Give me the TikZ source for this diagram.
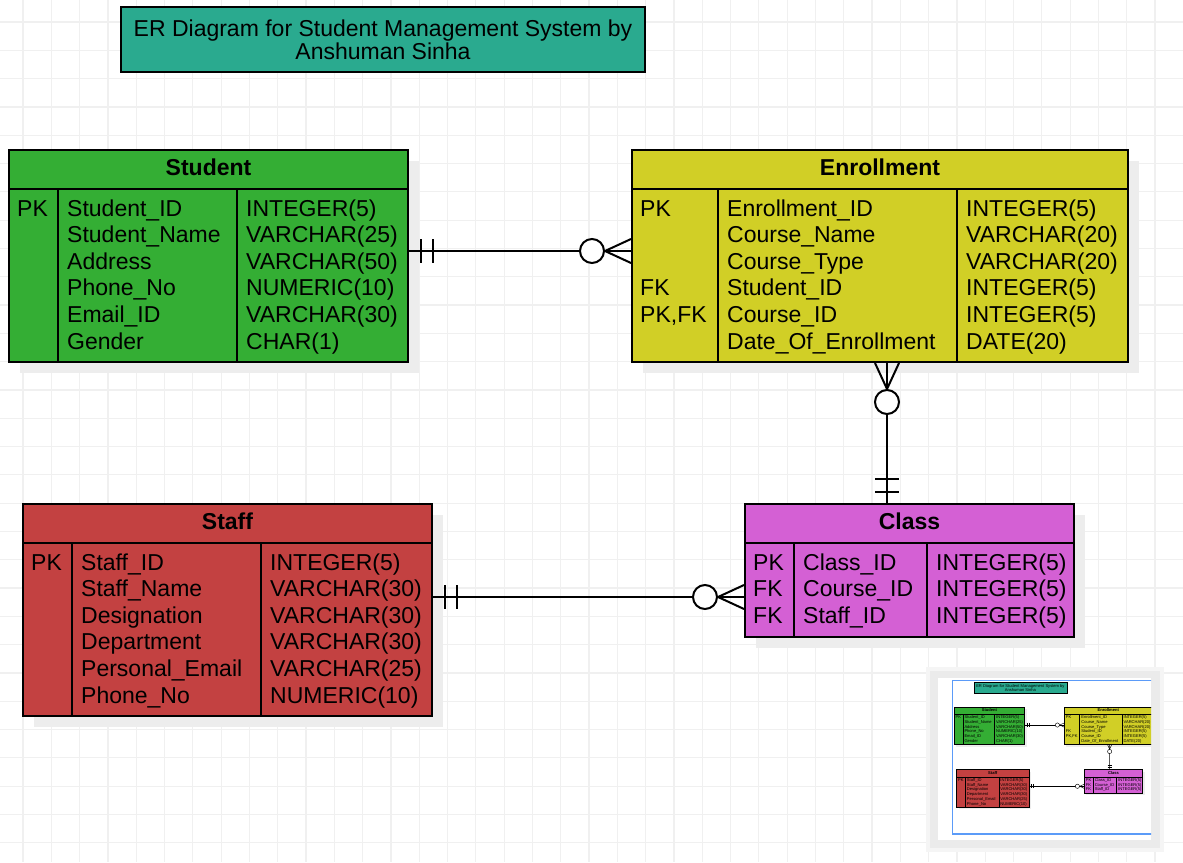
\documentclass[tikz,border=0pt]{standalone}
\usepackage{fontspec}
\setmainfont{Liberation Sans}
\usepackage{tikz}
\usetikzlibrary{calc}

\definecolor{titleteal}{HTML}{2AAA8F}
\definecolor{studentgreen}{HTML}{34AE34}
\definecolor{enrollyellow}{HTML}{D1CF26}
\definecolor{staffred}{HTML}{C34141}
\definecolor{classpink}{HTML}{D460D4}
\definecolor{viewblue}{HTML}{5B9BF8}

\newcommand{\lw}{2pt}

\tikzset{
	onebar/.pic={\draw[link] (11.5,-12) -- (11.5,12) (24,-12) -- (24,12);},
	zeromany/.pic={\draw[link] (0,-12) -- (26,0) -- (0,12);
		\draw[link, fill=white] (39,0) circle (12);}
}

% #1 name, #2 top left, #3 width, #4 height, #5/#6 column lines,
% #7 colour, #8 title, #9 rows
\newcommand{\ertable}[9]{%
	\fill[shade box] ([shift={(12,12)}]#2) rectangle ++(#3,#4);
	\node[tablebox, fill=#7, minimum width=#3, minimum height=#4] (#1) at (#2) {};
	\draw[border] ([yshift=-40]#1.north west) -- ([yshift=-40]#1.north east);
	\draw[border] ([shift={(#5,40)}]#1.north west) -- ([xshift=#5]#1.south west);
	\draw[border] ([shift={(#6,40)}]#1.north west) -- ([xshift=#6]#1.south west);
	\node[headtext] (#1-head) at ([yshift=-26]#1.north) {#8};
	\foreach \fkey/\fname/\ftype [count=\i] in {#9} {
		\node[celltext] (#1-k\i) at ([shift={(9,{67+26.6*(\i-1)})}]#1.north west) {\fkey};
		\node[celltext] (#1-n\i) at ([shift={({#5+9},{67+26.6*(\i-1)})}]#1.north west) {\fname};
		\node[celltext] (#1-t\i) at ([shift={({#6+9},{67+26.6*(\i-1)})}]#1.north west) {\ftype};
	}
}

\newcommand{\erbody}{%
	% % Nodes
	% title
	\node[titlebox] (title) at (383,39.5)
	{ER Diagram for Student Management System by\\Anshuman Sinha};
	% student
	\ertable{student}{8,149}{399}{212}{50}{229}{studentgreen}{Student}
	{PK/Student\_ID/INTEGER(5), /Student\_Name/VARCHAR(25),
	 /Address/VARCHAR(50), /Phone\_No/NUMERIC(10),
	 /Email\_ID/VARCHAR(30), /Gender/CHAR(1)}
	% enrollment
	\ertable{enrollment}{631,149}{496}{212}{87}{326}{enrollyellow}{Enrollment}
	{PK/Enrollment\_ID/INTEGER(5), /Course\_Name/VARCHAR(20),
	 /Course\_Type/VARCHAR(20), FK/Student\_ID/INTEGER(5),
	 {PK,FK}/Course\_ID/INTEGER(5), /Date\_Of\_Enrollment/DATE(20)}
	% staff
	\ertable{staff}{22,503}{409}{212}{50}{239}{staffred}{Staff}
	{PK/Staff\_ID/INTEGER(5), /Staff\_Name/VARCHAR(30),
	 /Designation/VARCHAR(30), /Department/VARCHAR(30),
	 /Personal\_Email/VARCHAR(25), /Phone\_No/NUMERIC(10)}
	% class
	\ertable{class}{744,503}{329}{133}{50}{183}{classpink}{Class}
	{PK/Class\_ID/INTEGER(5), FK/Course\_ID/INTEGER(5),
	 FK/Staff\_ID/INTEGER(5)}
	% % Connectors
	\coordinate (studentport) at ([yshift=-102]student.north east);
	\coordinate (enrollport) at ([yshift=-102]enrollment.north west);
	\coordinate (enrolldown) at ([xshift=256]enrollment.south west);
	\coordinate (classup) at (enrolldown |- class.north);
	\coordinate (staffport) at ([yshift=-94]staff.north east);
	\coordinate (classport) at ([yshift=-94]class.north west);
	\draw[link] (studentport) -- (enrollport);
	\draw[link] (enrolldown) -- (classup);
	\draw[link] (staffport) -- (classport);
	\pic at (studentport) {onebar};
	\pic[rotate=180] at (enrollport) {zeromany};
	\pic[rotate=-90] at (enrolldown) {zeromany};
	\pic[rotate=90] at (classup) {onebar};
	\pic at (staffport) {onebar};
	\pic[rotate=180] at (classport) {zeromany};
}

\begin{document}
\begin{tikzpicture}[x=1pt, y=-1pt]
	\tikzstyle{gridline}=[draw=black!6, line width=1.2pt]
	\tikzstyle{border}=[draw=black, line width=\lw]
	\tikzstyle{link}=[draw=black, line width=\lw]
	\tikzstyle{tablebox}=[border, anchor=north west, inner sep=0pt]
	\tikzstyle{shade box}=[fill=black!7]
	\tikzstyle{headtext}=[anchor=base, inner sep=0pt,
		font=\fontsize{23}{27}\selectfont\bfseries]
	\tikzstyle{celltext}=[anchor=base west, inner sep=0pt,
		font=\fontsize{23}{27}\selectfont]
	\tikzstyle{titlebox}=[border, fill=titleteal, minimum width=524,
		minimum height=65, align=center, inner sep=0pt,
		font=\fontsize{23}{23}\selectfont]
	\useasboundingbox (0,0) rectangle (1183,862);
	% background grid
	\fill[white] (0,0) rectangle (1183,862);
	\foreach \gx in {23,51.3,...,1190} \draw[gridline] (\gx,0) -- (\gx,862);
	\foreach \gy in {22,50.3,...,870} \draw[gridline] (0,\gy) -- (1183,\gy);
	% diagram
	\erbody
	% outline view
	\fill[black!4] (926,667) rectangle (1164,852);
	\fill[black!8] (930,671) rectangle (1160,848);
	\fill[white] (938,678) rectangle (1151,840);
	\begin{scope}
		\clip (938,678) rectangle (1151,840);
		\begin{scope}[shift={(952.6,680.6)}, scale=0.177, transform shape, name prefix=mini-]
			\renewcommand{\lw}{0.45pt}
			\erbody
		\end{scope}
		\draw[viewblue, line width=1.5pt] (952.6,680.6) rectangle ++(209.4,153.6);
	\end{scope}
\end{tikzpicture}
\end{document}
